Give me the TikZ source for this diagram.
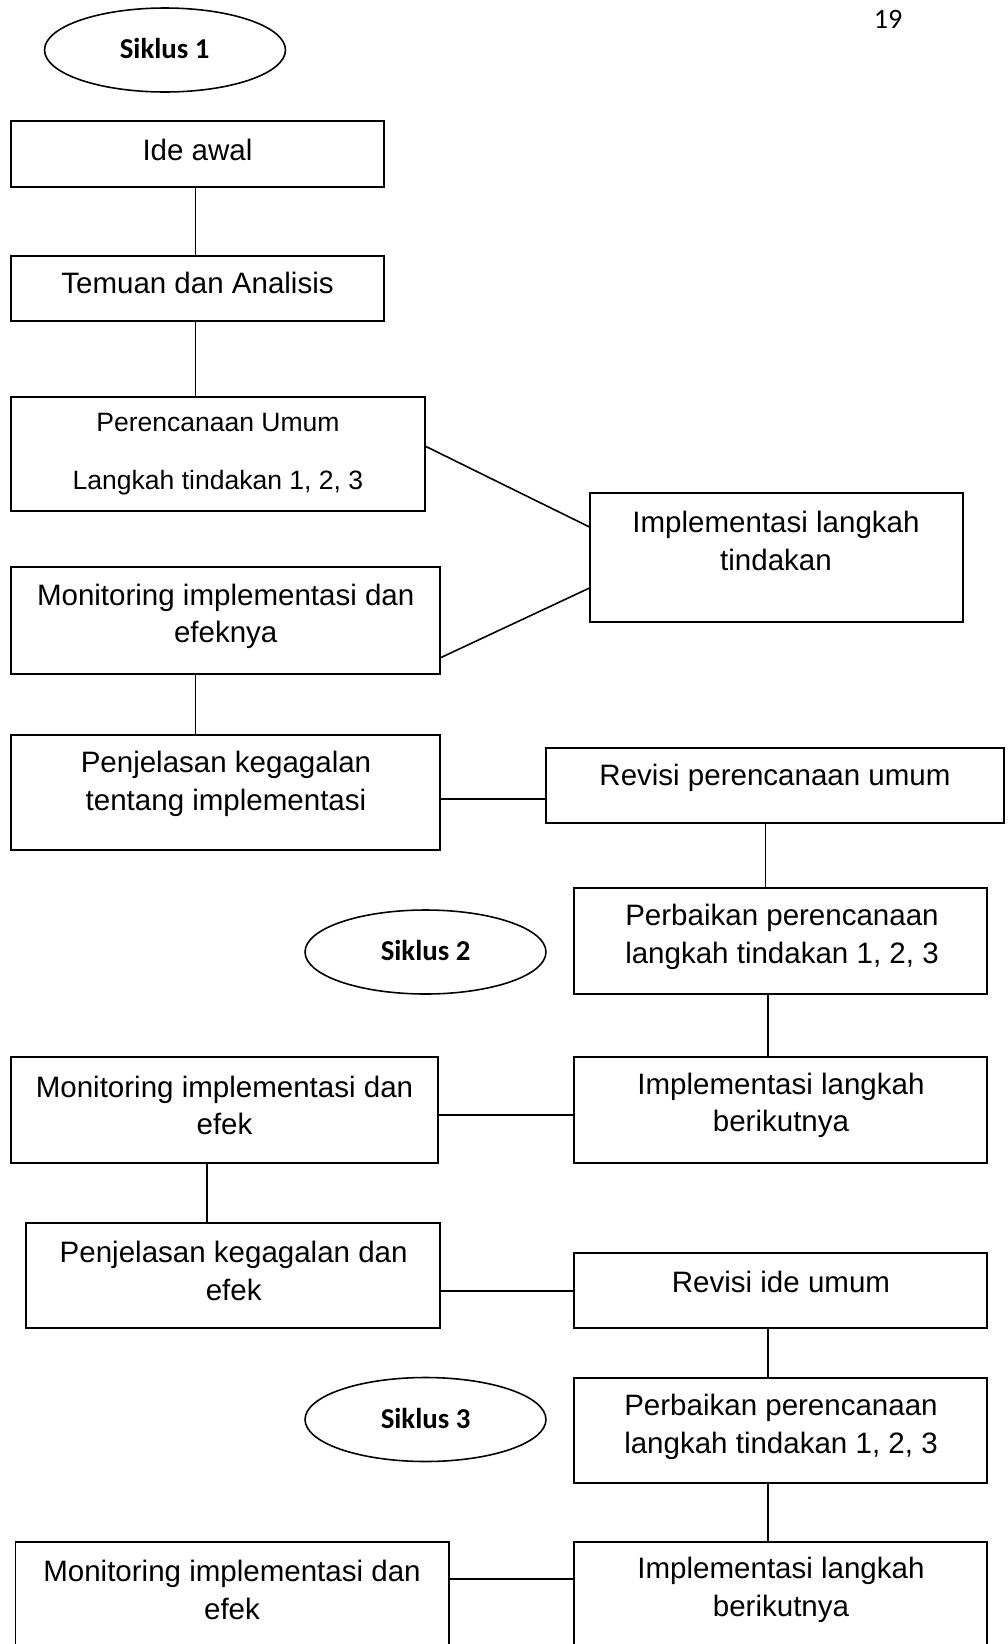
\documentclass[tikz,border=0pt]{standalone}
\usepackage{fontspec}
\setmainfont{Liberation Sans}
\newfontfamily\calibri{Carlito}
\usetikzlibrary{shapes.geometric}

\tikzset{
  box/.style={draw, line width=1.1pt, rectangle, inner sep=0pt, outer sep=0pt},
  txt/.style={align=center, inner sep=0pt, font=\fontsize{16.8}{21.3}\selectfont},
  cycle/.style={draw, line width=0.9pt, ellipse, inner sep=0pt, outer sep=0pt,
    minimum width=4.82cm, minimum height=1.68cm},
  cyctxt/.style={inner sep=0pt, font=\calibri\bfseries\fontsize{16.4}{19}\selectfont},
  link/.style={line width=0.9pt}
}

\begin{document}
\begin{tikzpicture}[x=0.02cm, y=-0.02cm]
\clip (0,0) rectangle (1008,1644);
\fill[white] (0,0) rectangle (1008,1644);

% page number
\node[font=\calibri\fontsize{16}{19}\selectfont] (pg) at (888,19.5) {19};

% cycle labels
\node[cycle] (s1) at (165,50) {};
\node[cyctxt] (s1T) at (164.7,48) {Siklus 1};
\node[cycle] (s2) at (425.5,952) {};
\node[cyctxt] (s2T) at (425.6,950) {Siklus 2};
\node[cycle] (s3) at (425.5,1419.5) {};
\node[cyctxt] (s3T) at (425.6,1418) {Siklus 3};

% boxes (outlines)
\node[box, minimum width=7.46cm, minimum height=1.32cm] (ide)  at (197.5,154) {};
\node[box, minimum width=7.46cm, minimum height=1.30cm] (tem)  at (197.5,288.5) {};
\node[box, minimum width=8.28cm, minimum height=2.28cm] (per)  at (218,454) {};
\node[box, minimum width=7.47cm, minimum height=2.58cm] (imp1) at (776.25,557.5) {};
\node[box, minimum width=8.58cm, minimum height=2.14cm] (mon1) at (225.5,620.5) {};
\node[box, minimum width=8.58cm, minimum height=2.30cm] (pjl1) at (225.5,792.5) {};
\node[box, minimum width=9.16cm, minimum height=1.50cm] (rev1) at (775,785.5) {};
\node[box, minimum width=8.26cm, minimum height=2.12cm] (pbk1) at (780.5,941) {};
\node[box, minimum width=8.55cm, minimum height=2.12cm] (mon2) at (224.75,1110) {};
\node[box, minimum width=8.26cm, minimum height=2.12cm] (imp2) at (780.5,1110) {};
\node[box, minimum width=8.28cm, minimum height=2.10cm] (pjl2) at (233,1275.5) {};
\node[box, minimum width=8.26cm, minimum height=1.50cm] (rev2) at (780.5,1290.5) {};
\node[box, minimum width=8.26cm, minimum height=2.10cm] (pbk2) at (780.5,1430.5) {};
\node[box, minimum width=8.67cm, minimum height=2.12cm] (mon3) at (232.2,1594.6) {};
\node[box, minimum width=8.26cm, minimum height=2.12cm] (imp3) at (780.5,1594.6) {};

% box texts
\node[txt] (ideT)  at (197.5,150) {Ide awal};
\node[txt] (temT)  at (197.5,283) {Temuan dan Analisis};
\node[txt, font=\fontsize{15.1}{18}\selectfont] (perT) at (218,454)
  {Perencanaan Umum\\[15pt]Langkah tindakan 1, 2, 3};
\node[txt] (imp1T) at (776,540.8) {Implementasi langkah\\tindakan};
\node[txt] (mon1T) at (225.7,616.5) {Monitoring implementasi dan\\efeknya};
\node[txt] (pjl1T) at (226,784) {Penjelasan kegagalan\\tentang implementasi};
\node[txt] (rev1T) at (775,777.5) {Revisi perencanaan umum};
\node[txt] (pbk1T) at (782,937) {Perbaikan perencanaan\\langkah tindakan 1, 2, 3};
\node[txt] (mon2T) at (224.5,1105.5) {Monitoring implementasi dan\\efek};
\node[txt] (imp2T) at (781,1105.5) {Implementasi langkah\\berikutnya};
\node[txt] (pjl2T) at (233.7,1271) {Penjelasan kegagalan dan\\efek};
\node[txt] (rev2T) at (781,1282) {Revisi ide umum};
\node[txt] (pbk2T) at (781,1427) {Perbaikan perencanaan\\langkah tindakan 1, 2, 3};
\node[txt] (mon3T) at (232,1590) {Monitoring implementasi dan\\efek};
\node[txt] (imp3T) at (781,1590) {Implementasi langkah\\berikutnya};

% connection points
\coordinate (a1) at ([xshift=3.69cm]ide.south west);
\coordinate (a2) at ([xshift=3.69cm]tem.south west);
\coordinate (a3) at ([yshift=-0.98cm]per.north east);
\coordinate (a4) at ([yshift=-0.68cm]imp1.north west);
\coordinate (a5) at ([yshift=-1.90cm]imp1.north west);
\coordinate (a6) at ([yshift=-1.82cm]mon1.north east);
\coordinate (a7) at ([xshift=3.69cm]mon1.south west);
\coordinate (a8) at ([yshift=-1.28cm]pjl1.north east);
\coordinate (a9) at ([xshift=4.39cm]rev1.south west);
\coordinate (b1) at ([xshift=3.88cm]pbk1.south west);
\coordinate (b2) at ([yshift=-1.16cm]mon2.north east);
\coordinate (b3) at ([xshift=3.92cm]mon2.south west);
\coordinate (b4) at ([yshift=-1.36cm]pjl2.north east);
\coordinate (b5) at ([xshift=3.88cm]rev2.south west);
\coordinate (b6) at ([xshift=3.88cm]pbk2.south west);
\coordinate (b7) at ([yshift=-0.75cm]mon3.north east);

% connectors
\draw[link] (a1) -- (a1 |- tem.north);
\draw[link] (a2) -- (a2 |- per.north);
\draw[link] (a3) -- (a4);
\draw[link] (a5) -- (a6);
\draw[link] (a7) -- (a7 |- pjl1.north);
\draw[link] (a8) -- (a8 -| rev1.west);
\draw[link] (a9) -- (a9 |- pbk1.north);
\draw[link] (b1) -- (b1 |- imp2.north);
\draw[link] (b2) -- (b2 -| imp2.west);
\draw[link] (b3) -- (b3 |- pjl2.north);
\draw[link] (b4) -- (b4 -| rev2.west);
\draw[link] (b5) -- (b5 |- pbk2.north);
\draw[link] (b6) -- (b6 |- imp3.north);
\draw[link] (b7) -- (b7 -| imp3.west);
\end{tikzpicture}
\end{document}
